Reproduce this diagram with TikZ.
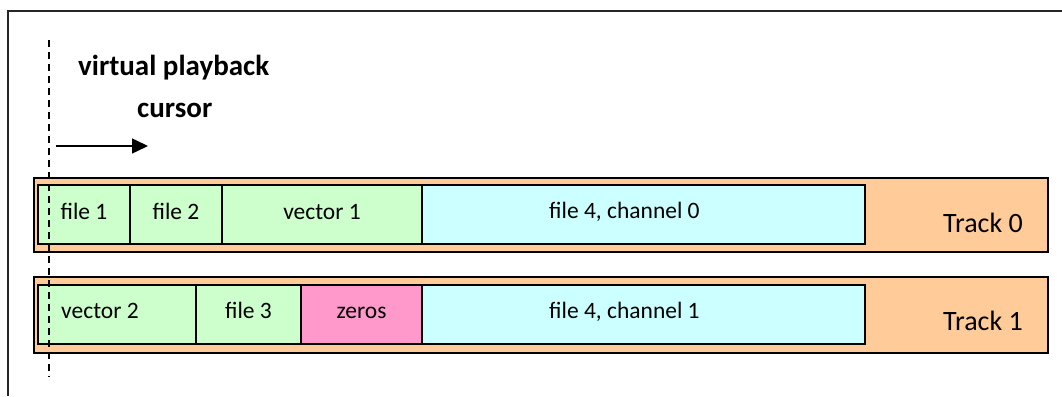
\documentclass[tikz,border=0pt]{standalone}
\usepackage{fontspec}
\setmainfont{Carlito}
\usetikzlibrary{arrows.meta}

\definecolor{trackfill}{HTML}{FFCC99}
\definecolor{filefill}{HTML}{CCFFCC}
\definecolor{chanfill}{HTML}{CCFFFF}
\definecolor{zerofill}{HTML}{FF99CC}

\tikzset{
  track/.style={draw=black, line width=2pt, fill=trackfill},
  block/.style={draw=black, line width=1.4pt},
  blocktext/.style={anchor=base, inner sep=0pt, font=\fontsize{23.5}{28}\selectfont},
  tracktext/.style={anchor=base, inner sep=0pt, font=\fontsize{28}{33}\selectfont},
  headtext/.style={anchor=base, inner sep=0pt, font=\fontsize{29}{34}\selectfont\bfseries},
  frame/.style={draw=black!85, line width=1.8pt},
  cursorline/.style={draw=black, line width=1.4pt, dash pattern=on 7pt off 5pt},
  motion/.style={draw=black, line width=1.5pt, -{Triangle[length=16pt,width=15pt]}},
}

\begin{document}
\begin{tikzpicture}[x=1pt, y=-1pt]
  \useasboundingbox (0,0) rectangle (1062,396);

  % surrounding frame (open on the right and bottom)
  \coordinate (fbl) at (8,396);
  \coordinate (ftl) at (8,11);
  \coordinate (ftr) at (1062,11);
  \draw[frame] (fbl) -- (ftl) -- (ftr);

  % track 0
  \draw[track] (34,178) rectangle (1048,252);
  \draw[block, fill=filefill] (38,185) rectangle (130,244);
  \draw[block, fill=filefill] (130,185) rectangle (222,244);
  \draw[block, fill=filefill] (222,185) rectangle (422,244);
  \draw[block, fill=chanfill] (422,185) rectangle (865,244);
  \node[blocktext] (f1) at (84,219) {file 1};
  \node[blocktext] (f2) at (176,219) {file 2};
  \node[blocktext] (v1) at (322,219) {vector 1};
  \node[blocktext, anchor=base west] (f4c0) at (549,218) {file 4, channel 0};
  \node[tracktext, anchor=base west] (t0) at (943,232) {Track 0};

  % track 1
  \draw[track] (34,277) rectangle (1048,353);
  \draw[block, fill=filefill] (38,285) rectangle (196,344);
  \draw[block, fill=filefill] (196,285) rectangle (301,344);
  \draw[block, fill=zerofill] (301,285) rectangle (422,344);
  \draw[block, fill=chanfill] (422,285) rectangle (865,344);
  \node[blocktext, anchor=base west] (v2) at (61,318) {vector 2};
  \node[blocktext] (f3) at (248.5,318) {file 3};
  \node[blocktext] (zr) at (361.5,318) {zeros};
  \node[blocktext, anchor=base west] (f4c1) at (549,318) {file 4, channel 1};
  \node[tracktext, anchor=base west] (t1) at (943,330) {Track 1};

  % playback cursor
  \coordinate (ctop) at (49,40);
  \coordinate (cbot) at (49,377);
  \draw[cursorline] (ctop) -- (cbot);
  \node[headtext, anchor=base west] (vp) at (78,75) {virtual playback};
  \node[headtext, anchor=base west] (cu) at (137,117) {cursor};
  \coordinate (mstart) at (56,146);
  \coordinate (mend) at (148,146);
  \draw[motion] (mstart) -- (mend);
\end{tikzpicture}
\end{document}
